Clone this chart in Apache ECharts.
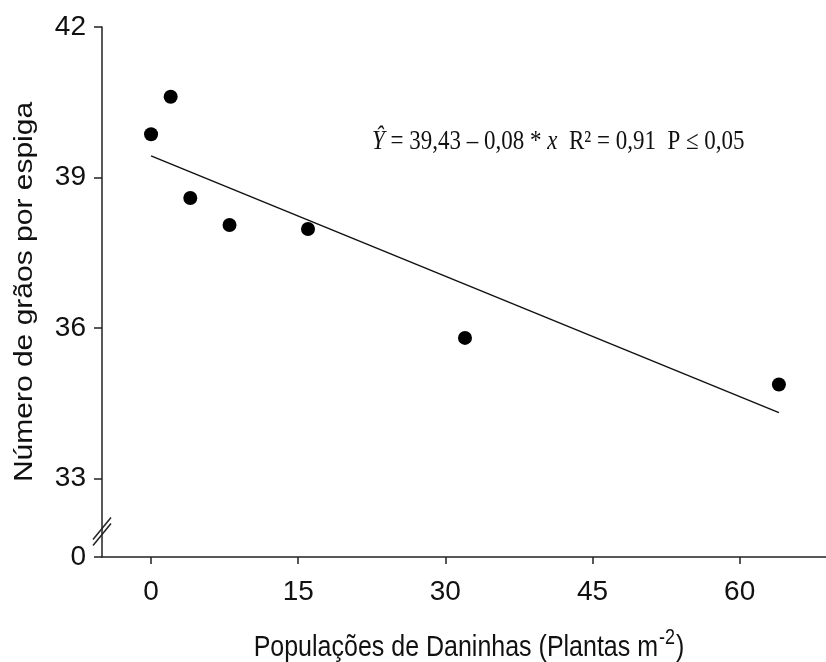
<!DOCTYPE html>
<html>
<head>
<meta charset="utf-8">
<title>Número de grãos por espiga</title>
<script src="https://cdn.jsdelivr.net/npm/echarts@6/dist/echarts.min.js"></script>
<style>
  html, body { margin: 0; padding: 0; background: #fff; }
  #chart { width: 826px; height: 662px; }
</style>
</head>
<body>
<div id="chart"></div>
<script>
// Weed density (plants per m²) and grains per ear
const populacoes = [0, 2, 4, 8, 16, 32, 64];
const graos = [39.86, 40.61, 38.59, 38.05, 37.97, 35.80, 34.87];

// Fitted regression: Ŷ = 39,43 – 0,08 * x
const intercepto = 39.43;
const inclinacao = -0.08;
const linhaX = [0, 64];

// Y axis: broken between 0 and 33; the bottom of the axis carries the "0" label
const yMin = 31.43;
const yMax = 42;
const yTicks = [yMin, 33, 36, 39, 42];
const xTicks = [0, 15, 30, 45, 60];

const linha = linhaX.map(x => [x, intercepto + inclinacao * x]);
const pontos = populacoes.map((x, i) => [x, graos[i]]);

const chart = echarts.init(document.getElementById('chart'), null, { renderer: 'canvas' });

const narrow = '"Liberation Sans Narrow", "Arial Narrow", "Liberation Sans", Arial, sans-serif';
const sans = '"Liberation Sans", Arial, sans-serif';
const serif = '"Liberation Serif", "Times New Roman", serif';
const axisColor = '#222';
const textColor = '#111';

chart.setOption({
  animation: false,
  backgroundColor: '#fff',
  grid: { left: 102, right: 0, top: 27, bottom: 105, containLabel: false },
  xAxis: {
    type: 'value',
    min: -5,
    max: 68.8,
    axisLine: { show: true, onZero: false, lineStyle: { color: axisColor, width: 1.5 } },
    axisTick: { show: true, length: 7, inside: false, customValues: xTicks,
      lineStyle: { color: axisColor, width: 1.5 } },
    axisLabel: { customValues: xTicks, margin: 21, color: textColor, fontSize: 28, fontFamily: narrow },
    splitLine: { show: false }
  },
  yAxis: {
    type: 'value',
    min: yMin,
    max: yMax,
    axisLine: { show: true, onZero: false, lineStyle: { color: axisColor, width: 1.5 } },
    axisTick: { show: true, length: 8, inside: false, customValues: yTicks,
      lineStyle: { color: axisColor, width: 1.5 } },
    axisLabel: {
      customValues: yTicks,
      margin: 16,
      color: textColor,
      fontSize: 28,
      fontFamily: narrow,
      formatter: v => (v < 32 ? '0' : String(Math.round(v)))
    },
    splitLine: { show: false }
  },
  series: [
    {
      type: 'line',
      data: linha,
      symbol: 'none',
      lineStyle: { color: '#111', width: 1.5 },
      z: 2
    },
    {
      type: 'scatter',
      data: pontos,
      symbol: 'circle',
      symbolSize: 14,
      itemStyle: { color: '#000', opacity: 1 },
      z: 3
    }
  ]
});

// Axis-break slashes, axis titles and the regression annotation
const brk = chart.convertToPixel({ gridIndex: 0 }, [-5, 31.94]);
const slash = (dy) => ({
  type: 'line',
  shape: { x1: brk[0] - 9, y1: brk[1] + 11 + dy, x2: brk[0] + 9, y2: brk[1] - 11 + dy },
  style: { stroke: axisColor, lineWidth: 1.5 },
  z: 10
});

chart.setOption({
  graphic: [
    slash(-3),
    slash(3),
    {
      type: 'text',
      x: 25,
      y: 292,
      rotation: Math.PI / 2,
      scaleX: 1.2,
      style: {
        text: 'Número de grãos por espiga',
        font: '25px ' + sans,
        fill: textColor,
        align: 'center',
        verticalAlign: 'middle'
      },
      z: 10
    },
    {
      type: 'text',
      x: 469,
      y: 645,
      scaleY: 1.2,
      style: {
        text: '{t|Populações de Daninhas (Plantas m}{s|-2}{t|)}',
        fill: textColor,
        align: 'center',
        verticalAlign: 'middle',
        rich: {
          t: { fontSize: 25, fontFamily: sans, fill: textColor, verticalAlign: 'bottom', lineHeight: 30 },
          s: { fontSize: 18, fontFamily: sans, fill: textColor, verticalAlign: 'top', lineHeight: 30, padding: [0, 1, 14, 1] }
        }
      },
      z: 10
    },
    {
      type: 'text',
      x: 372,
      y: 142,
      scaleY: 1.15,
      style: {
        text: '{i|Ŷ} = 39,43 – 0,08 * {i|x}  R² = 0,91  P ≤ 0,05',
        fill: textColor,
        font: '23px ' + serif,
        align: 'left',
        verticalAlign: 'middle',
        rich: {
          i: { fontStyle: 'italic', fontSize: 23, fontFamily: serif, fill: textColor }
        }
      },
      z: 10
    }
  ]
});
</script>
</body>
</html>
